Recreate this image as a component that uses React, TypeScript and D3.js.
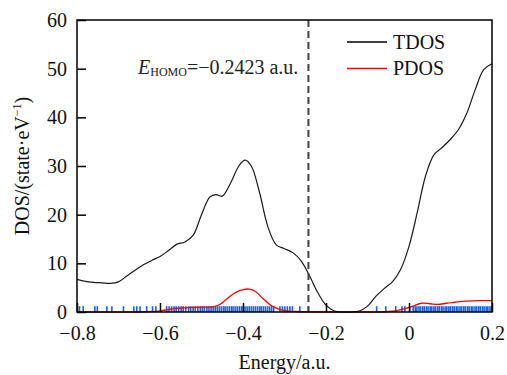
import { useEffect, useRef } from "react"
import * as d3 from "d3"

// total density of states (energy in a.u., DOS in state/eV)
const tdosEnergy = [-0.8, -0.78, -0.76, -0.74, -0.72, -0.7, -0.68, -0.66, -0.64, -0.62, -0.6, -0.58, -0.56, -0.54, -0.52, -0.5, -0.48, -0.465, -0.45, -0.43, -0.41, -0.395, -0.38, -0.36, -0.34, -0.32, -0.3, -0.28, -0.26, -0.24, -0.22, -0.2, -0.18, -0.16, -0.14, -0.12, -0.1, -0.08, -0.06, -0.04, -0.02, 0, 0.02, 0.04, 0.06, 0.08, 0.1, 0.12, 0.14, 0.16, 0.18, 0.2]
const tdosValue = [6.7, 6.3, 6.1, 6.0, 5.9, 6.2, 7.4, 8.6, 9.7, 10.6, 11.4, 12.6, 13.9, 14.4, 15.8, 20.0, 23.6, 24.1, 23.8, 26.5, 30.0, 31.2, 30.0, 24.5, 17.5, 13.8, 13.0, 12.2, 10.5, 7.5, 4.0, 1.4, 0.2, 0, 0, 0.2, 1.2, 3.2, 4.8, 6.2, 8.8, 13.5, 20.5, 28.0, 32.3, 33.8, 35.5, 37.6, 41.0, 45.8, 49.8, 51.0]

// partial density of states
const pdosEnergy = [-0.8, -0.65, -0.62, -0.6, -0.58, -0.56, -0.54, -0.5, -0.47, -0.455, -0.44, -0.42, -0.4, -0.385, -0.37, -0.35, -0.33, -0.31, -0.29, -0.27, -0.25, -0.2, -0.1, -0.07, -0.05, -0.03, -0.01, 0.01, 0.03, 0.05, 0.07, 0.09, 0.11, 0.13, 0.15, 0.17, 0.2]
const pdosValue = [0, 0, 0.1, 0.25, 0.5, 0.75, 0.85, 1.0, 1.1, 1.6, 2.6, 3.9, 4.6, 4.7, 4.2, 2.6, 1.2, 0.5, 0.2, 0.1, 0.05, 0, 0, 0, 0.1, 0.3, 0.7, 1.2, 1.8, 1.7, 1.55, 1.8, 2.0, 2.2, 2.3, 2.35, 2.35]

// orbital eigenvalues (blue sticks)
const levels = [
  -0.794, -0.785, -0.757, -0.751, -0.728, -0.716, -0.688, -0.663, -0.656, -0.648, -0.632, -0.618, -0.61, -0.584, -0.578,
  -0.572, -0.566, -0.561, -0.555, -0.549, -0.544, -0.538, -0.531, -0.526, -0.52, -0.515, -0.509, -0.503, -0.498, -0.493,
  -0.487, -0.482, -0.477, -0.472, -0.467, -0.462, -0.457, -0.452, -0.447, -0.443, -0.438, -0.433, -0.428, -0.424, -0.419,
  -0.414, -0.409, -0.404, -0.4, -0.395, -0.39, -0.385, -0.38, -0.375, -0.37, -0.365, -0.36, -0.356, -0.351, -0.346,
  -0.341, -0.336, -0.331, -0.326, -0.311, -0.305, -0.299, -0.293, -0.287, -0.281, -0.263, -0.2423,
  -0.078, -0.056, -0.032, -0.017, -0.01, 0.002,
  0.01, 0.015, 0.019, 0.024, 0.028, 0.033, 0.037, 0.042, 0.046, 0.051, 0.055, 0.06, 0.064, 0.069, 0.073, 0.078,
  0.082, 0.087, 0.091, 0.096, 0.1, 0.105, 0.109, 0.114, 0.118, 0.123, 0.127, 0.132, 0.136, 0.141, 0.145, 0.15,
  0.154, 0.159, 0.163, 0.168, 0.172, 0.177, 0.181, 0.186, 0.19, 0.195, 0.199,
]

const homo = -0.2423
const xTicks = [-0.8, -0.6, -0.4, -0.2, 0, 0.2]
const yTicks = [0, 10, 20, 30, 40, 50, 60]
const legendItems = [
  { name: "TDOS", color: "#000" },
  { name: "PDOS", color: "#ff0000" },
]

export default function App() {
  const svgRef = useRef<SVGSVGElement | null>(null)

  useEffect(() => {
    if (!svgRef.current) return
    const svg = d3.select(svgRef.current)
    svg.selectAll("*").remove()

    const font = "'Liberation Serif', 'Times New Roman', serif"
    const m = { left: 77, right: 15, top: 20, bottom: 63 }
    const width = 507
    const height = 375

    const x = d3.scaleLinear().domain([-0.8, 0.2]).range([m.left, width - m.right])
    const y = d3.scaleLinear().domain([0, 60]).range([height - m.bottom, m.top])

    const g = svg.append("g")

    // eigenvalue sticks
    g.append("g")
      .selectAll("line")
      .data(levels)
      .enter()
      .append("line")
      .attr("x1", d => x(d))
      .attr("x2", d => x(d))
      .attr("y1", y(0))
      .attr("y2", y(1.2))
      .attr("stroke", "#1462f0")
      .attr("stroke-width", 1.6)

    const line = d3.line<[number, number]>()
      .x(d => x(d[0]))
      .y(d => Math.min(y(d[1]), y(0)))
      .curve(d3.curveCatmullRom.alpha(0.5))

    g.append("path")
      .datum(pdosEnergy.map((e, i) => [e, pdosValue[i]] as [number, number]))
      .attr("d", line)
      .attr("fill", "none")
      .attr("stroke", "#ff0000")
      .attr("stroke-width", 1.3)

    g.append("path")
      .datum(tdosEnergy.map((e, i) => [e, tdosValue[i]] as [number, number]))
      .attr("d", line)
      .attr("fill", "none")
      .attr("stroke", "#1a1a1a")
      .attr("stroke-width", 1.2)

    // HOMO marker
    g.append("line")
      .attr("x1", x(homo))
      .attr("x2", x(homo))
      .attr("y1", y(60))
      .attr("y2", y(0))
      .attr("stroke", "#444")
      .attr("stroke-width", 2)
      .attr("stroke-dasharray", "7,4")

    const ann = g.append("text")
      .attr("x", 138)
      .attr("y", 74)
      .style("font-family", font)
      .style("font-size", "20px")
      .attr("fill", "#222")
    ann.append("tspan").style("font-style", "italic").text("E")
    ann.append("tspan").style("font-size", "12px").attr("dy", 2).text("HOMO")
    ann.append("tspan").attr("dy", -2).text("=\u22120.2423 a.u.")

    // frame
    g.append("rect")
      .attr("x", x(-0.8))
      .attr("y", y(60))
      .attr("width", x(0.2) - x(-0.8))
      .attr("height", y(0) - y(60))
      .attr("fill", "none")
      .attr("stroke", "#000")
      .attr("stroke-width", 1.5)

    const fmt = (d: number) => (d === 0 ? "0" : d3.format(".1f")(d))

    const xAxis = g.append("g")
      .attr("transform", `translate(0,${y(0)})`)
      .call(d3.axisBottom(x).tickValues(xTicks).tickFormat(d => fmt(+d)).tickSizeInner(-9).tickSizeOuter(0).tickPadding(14))
    const yAxis = g.append("g")
      .attr("transform", `translate(${x(-0.8)},0)`)
      .call(d3.axisLeft(y).tickValues(yTicks).tickFormat(d3.format("d")).tickSizeInner(-9).tickSizeOuter(0).tickPadding(10))

    for (const ax of [xAxis, yAxis]) {
      ax.attr("font-family", null)
      ax.select(".domain").remove()
      ax.selectAll("line").attr("stroke", "#000").attr("stroke-width", 1.5)
      ax.selectAll("text")
        .style("font-family", font)
        .style("font-size", "20px")
        .attr("fill", "#111")
    }

    // axis titles
    svg.append("text")
      .attr("x", (x(-0.8) + x(0.2)) / 2)
      .attr("y", 369)
      .attr("text-anchor", "middle")
      .style("font-family", font)
      .style("font-size", "20px")
      .attr("fill", "#111")
      .text("Energy/a.u.")

    const yl = svg.append("text")
      .attr("transform", `translate(29,${(y(0) + y(60)) / 2}) rotate(-90)`)
      .attr("text-anchor", "middle")
      .style("font-family", font)
      .style("font-size", "20px")
      .attr("fill", "#111")
    yl.append("tspan").text("DOS/(state\u00b7eV")
    yl.append("tspan").style("font-size", "12px").attr("dy", -8).text("\u22121")
    yl.append("tspan").attr("dy", 8).text(")")

    // legend
    const lg = svg.append("g")
    legendItems.forEach((item, i) => {
      const ly = 42 + i * 26.5
      lg.append("line")
        .attr("x1", 347)
        .attr("x2", 387)
        .attr("y1", ly)
        .attr("y2", ly)
        .attr("stroke", item.color)
        .attr("stroke-width", 1.3)
      lg.append("text")
        .attr("x", 393)
        .attr("y", ly + 6.5)
        .style("font-family", font)
        .style("font-size", "20px")
        .attr("fill", "#111")
        .text(item.name)
    })
  }, [])

  return (
    <svg
      ref={svgRef}
      width={507}
      height={375}
      viewBox="0 0 507 375"
      style={{ position: "absolute", left: 0, top: 0, background: "#fff" }}
    />
  )
}
